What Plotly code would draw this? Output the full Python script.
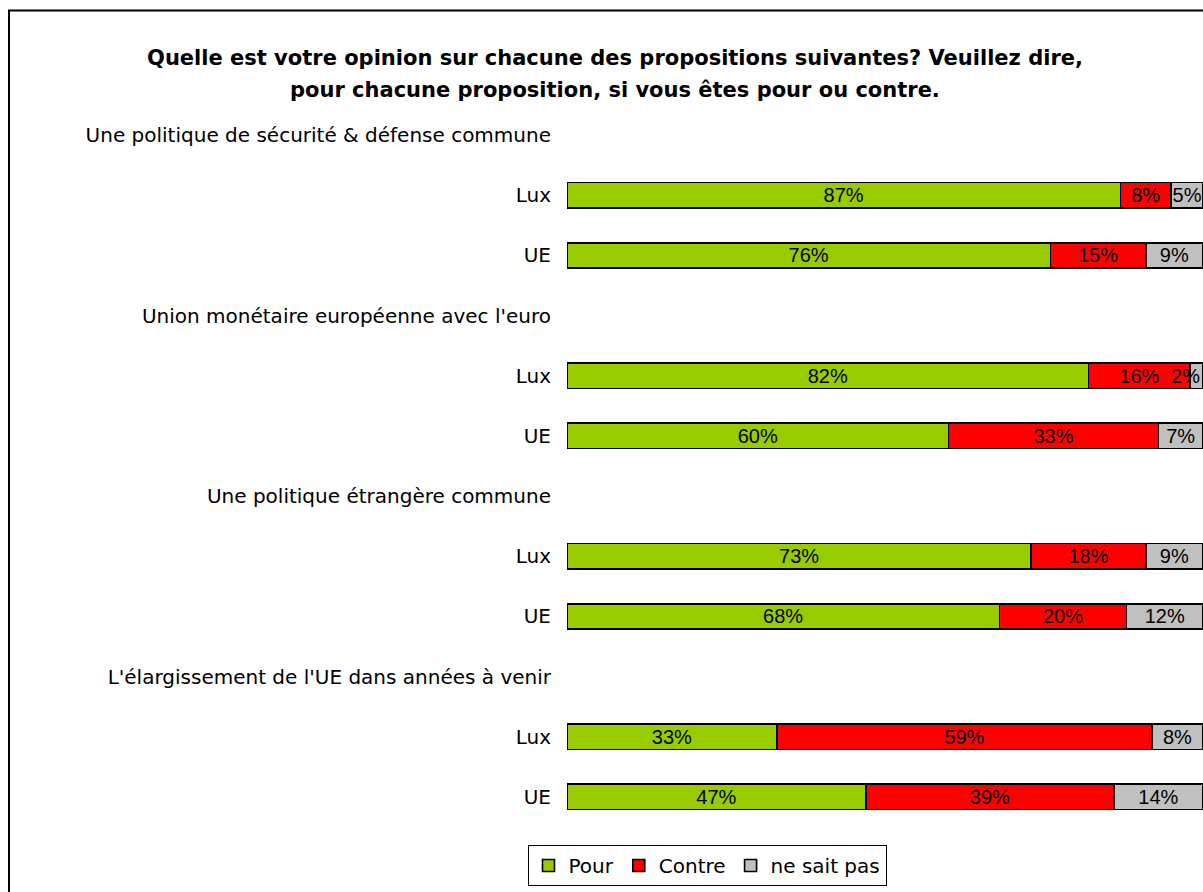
import plotly.graph_objects as go

title_lines = ["Quelle est votre opinion sur chacune des propositions suivantes? Veuillez dire,",
               "pour chacune proposition, si vous êtes pour ou contre."]

row_labels = [
    "Une politique de sécurité & défense commune", "Lux", "UE",
    "Union monétaire européenne avec l'euro", "Lux", "UE",
    "Une politique étrangère commune", "Lux", "UE",
    "L'élargissement de l'UE dans années à venir", "Lux", "UE",
]
# None = header row (no bar)
pour =   [None, 87, 76, None, 82, 60, None, 73, 68, None, 33, 47]
contre = [None, 8, 15, None, 16, 33, None, 18, 20, None, 59, 39]
nsp =    [None, 5, 9, None, 2, 7, None, 9, 12, None, 8, 14]

series_names = ["Pour", "Contre", "ne sait pas"]
series_colors = ["#99CC00", "#FF0000", "#C0C0C0"]

ARIAL = "Liberation Sans, Arial, sans-serif"
WIDE = "DejaVu Sans, Verdana, sans-serif"
ypos = list(range(len(row_labels)))


def label(v):
    if v is None:
        return ""
    s = f"{v}%"
    # very thin segment at the right edge: shift label leftwards (as in the original)
    if v < 4:
        s = s + "\u00a0" * 4
    return s


fig = go.Figure()
for name, vals, col in zip(series_names, [pour, contre, nsp], series_colors):
    fig.add_trace(go.Bar(
        name=name, orientation="h", y=ypos, x=vals,
        marker=dict(color=col, line=dict(color="black", width=1.6)),
        width=0.42,
        text=[label(v) for v in vals],
        textposition="inside", insidetextanchor="middle", textangle=0,
        constraintext="none", cliponaxis=False,
        textfont=dict(family=ARIAL, size=20, color="black"),
        hoverinfo="skip",
    ))

plot_left, plot_top, plot_bottom, W, H = 567, 105, 827, 1203, 892
ph = plot_bottom - plot_top
pw = W - plot_left


def px_x(x):
    return (x - plot_left) / pw


def px_y(y):
    return (plot_bottom - y) / ph


fig.update_layout(
    width=W, height=H, barmode="stack",
    margin=dict(l=plot_left, r=0, t=plot_top, b=H - plot_bottom, pad=0),
    paper_bgcolor="white", plot_bgcolor="white",
    font=dict(family=WIDE, size=20, color="black"),
    title=dict(text="<b>" + title_lines[0] + "</b>",
               x=615 / W, xanchor="center", y=1 - 58 / H, yanchor="middle",
               font=dict(family=WIDE, size=21, color="black")),
    annotations=[dict(text="<b>" + title_lines[1] + "</b>", xref="paper", yref="paper",
                      x=px_x(615), y=px_y(90), xanchor="center", yanchor="middle",
                      showarrow=False, font=dict(family=WIDE, size=21, color="black"))],
    xaxis=dict(range=[0, 100], visible=False, showgrid=False, fixedrange=True),
    yaxis=dict(range=[len(row_labels) - 0.5, -0.5], tickmode="array",
               tickvals=ypos, ticktext=row_labels, showgrid=False,
               zeroline=False, showline=False, ticks="", fixedrange=True,
               ticklabelstandoff=15, tickfont=dict(family=WIDE, size=20)),
    legend=dict(orientation="h", x=px_x(707), xanchor="center",
                y=px_y(845), yanchor="top",
                bordercolor="black", borderwidth=1,
                font=dict(family=WIDE, size=20), traceorder="normal"),
    shapes=[dict(type="rect", xref="paper", yref="paper",
                 x0=px_x(9), x1=px_x(W + 20),
                 y0=px_y(H + 20), y1=px_y(10.5),
                 line=dict(color="black", width=2), fillcolor="rgba(0,0,0,0)",
                 layer="below")],
)

fig.write_html("out.html", config={"displayModeBar": False},
               post_script="document.body.style.margin='0';document.body.style.overflow='hidden';")
